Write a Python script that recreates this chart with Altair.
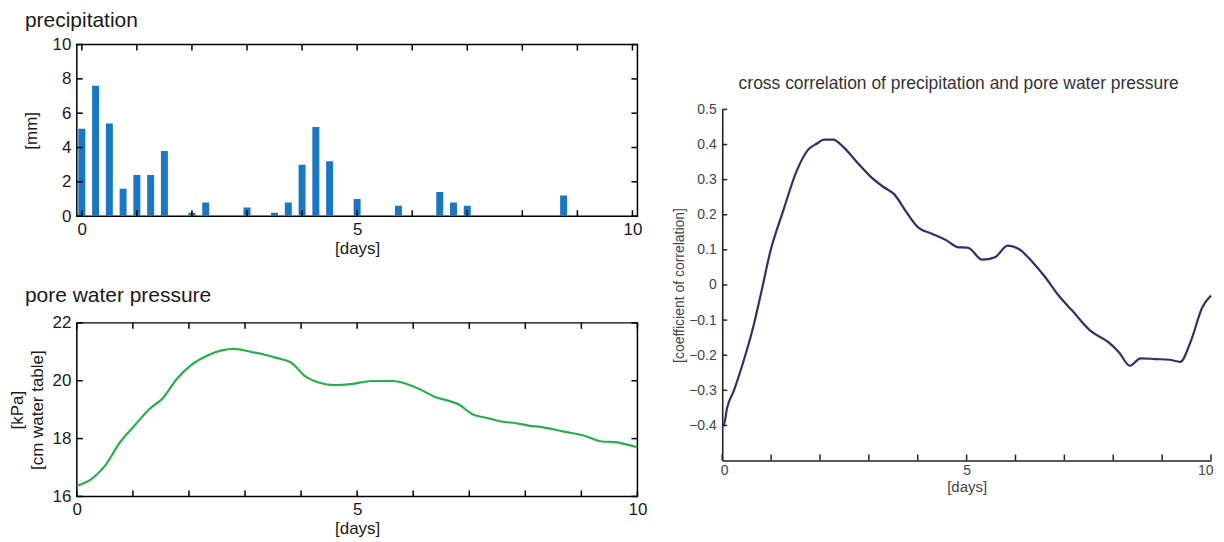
import altair as alt
import pandas as pd

# ---------------- data ----------------
precip_day = [0, 0.25, 0.5, 0.75, 1.0, 1.25, 1.5, 2.0, 2.25, 3.0, 3.5, 3.75,
              4.0, 4.25, 4.5, 5.0, 5.75, 6.5, 6.75, 7.0, 8.75]
precip_mm = [5.1, 7.6, 5.4, 1.6, 2.4, 2.4, 3.8, 0.2, 0.8, 0.5, 0.2, 0.8,
             3.0, 5.2, 3.2, 1.0, 0.6, 1.4, 0.8, 0.6, 1.2]

pwp_day = [0, 0.26, 0.49, 0.78, 1.01, 1.31, 1.53, 1.79, 2.04, 2.35, 2.80, 3.10,
           3.54, 3.84, 4.07, 4.33, 4.59, 4.89, 5.26, 5.63, 5.90, 6.08, 6.38,
           6.83, 7.05, 7.35, 7.57, 7.84, 8.06, 8.32, 8.69, 9.07, 9.37, 9.59, 10.0]
pwp_kpa = [16.37, 16.60, 17.03, 17.90, 18.41, 19.05, 19.39, 20.08, 20.54, 20.89,
           21.10, 21.00, 20.80, 20.60, 20.16, 19.93, 19.85, 19.88, 19.99, 19.99,
           19.88, 19.74, 19.45, 19.16, 18.85, 18.70, 18.59, 18.53, 18.45, 18.39,
           18.24, 18.09, 17.90, 17.88, 17.70]

xc_day = [0, 0.03, 0.1, 0.24, 0.46, 0.65, 0.8, 0.98, 1.24, 1.53, 1.75, 1.94, 2.08,
          2.27, 2.49, 2.78, 3.04, 3.30, 3.52, 3.78, 4.0, 4.29, 4.59, 4.81, 5.03,
          5.32, 5.58, 5.84, 6.06, 6.35, 6.61, 6.87, 7.16, 7.53, 7.9, 8.12, 8.34,
          8.56, 8.86, 9.15, 9.37, 9.59, 9.82, 10.0]
xc_coef = [-0.40, -0.40, -0.35, -0.30, -0.206, -0.111, -0.02, 0.093, 0.208, 0.327,
           0.384, 0.403, 0.414, 0.414, 0.391, 0.346, 0.308, 0.279, 0.258, 0.205,
           0.165, 0.146, 0.127, 0.108, 0.106, 0.072, 0.079, 0.112, 0.103, 0.065,
           0.022, -0.028, -0.073, -0.13, -0.163, -0.192, -0.23, -0.209, -0.211,
           -0.213, -0.219, -0.159, -0.064, -0.03]

day_ticks = [0, 1, 2, 3, 4, 5, 6, 7, 8, 9, 10]
day_labels = [0, 5, 10]
precip_ticks = [0, 2, 4, 6, 8, 10]
pwp_ticks = [16, 18, 20, 22]
xc_ticks = [-0.4, -0.3, -0.2, -0.1, 0, 0.1, 0.2, 0.3, 0.4, 0.5]

FONT = "Liberation Sans"
TXT = "#1a1a1a"
GRAY = "#444444"

LW, TH, BH = 562, 172, 174
RW, RH = 490, 352
TL = 6

xscale = alt.Scale(domain=[0, 10], nice=False, zero=False)


def left_x_axis():
    return alt.Axis(values=day_labels, ticks=False, domain=False, grid=False,
                    labelFontSize=17, labelFont=FONT, labelColor=TXT, labelPadding=5,
                    labelFlush=False, labelOverlap=False,
                    title="[days]", titleFont=FONT, titleFontSize=17,
                    titleFontWeight="normal", titleColor=TXT, titlePadding=3)


def inward_ticks(yfield_vals, yscale, W, H):
    xt = alt.Chart(pd.DataFrame({"t": day_ticks}))
    yt = alt.Chart(pd.DataFrame({"v": yfield_vals}))
    rule = dict(color="black", strokeWidth=1.5)
    bottom = xt.mark_rule(**rule).encode(
        x=alt.X("t:Q", scale=xscale, axis=None), y=alt.value(H), y2=alt.value(H - TL))
    top = xt.mark_rule(**rule).encode(
        x=alt.X("t:Q", scale=xscale, axis=None), y=alt.value(0), y2=alt.value(TL))
    left = yt.mark_rule(**rule).encode(
        y=alt.Y("v:Q", scale=yscale, axis=None), x=alt.value(0), x2=alt.value(TL))
    right = yt.mark_rule(**rule).encode(
        y=alt.Y("v:Q", scale=yscale, axis=None), x=alt.value(W), x2=alt.value(W - TL))
    return [bottom, top, left, right]


# ---------------- precipitation ----------------
p_yscale = alt.Scale(domain=[0, 10], nice=False)
precip_df = pd.DataFrame({"day": precip_day, "mm": precip_mm})
bars = alt.Chart(precip_df).mark_bar(size=7, color="#1a78c2", clip=True).encode(
    x=alt.X("day:Q", scale=xscale, axis=left_x_axis()),
    y=alt.Y("mm:Q", scale=p_yscale,
            axis=alt.Axis(values=precip_ticks, ticks=False, domain=False, grid=False,
                          labelFontSize=17, labelFont=FONT, labelColor=TXT,
                          labelPadding=6, labelFlush=False,
                          title="[mm]", titleFont=FONT, titleFontSize=17,
                          titleFontWeight="normal", titleColor=TXT,
                          titleAngle=-90, titleAlign="center", titleBaseline="middle",
                          titleX=-45, titleY=TH / 2)),
)
top_chart = alt.layer(bars, *inward_ticks(precip_ticks, p_yscale, LW, TH)).resolve_axis(
    x="independent", y="independent"
).properties(
    width=LW, height=TH,
    view=alt.ViewBackground(stroke="black", strokeWidth=1.5),
    title=alt.TitleParams("precipitation", anchor="start", frame="group", dx=-52, offset=5,
                          font=FONT, fontSize=21, fontWeight="normal", color=TXT),
)

# ---------------- pore water pressure ----------------
w_yscale = alt.Scale(domain=[16, 22], nice=False, zero=False)
pwp_df = pd.DataFrame({"day": pwp_day, "kpa": pwp_kpa})
pline = alt.Chart(pwp_df).mark_line(color="#27b04a", strokeWidth=2.2,
                                    interpolate="monotone").encode(
    x=alt.X("day:Q", scale=xscale, axis=left_x_axis()),
    y=alt.Y("kpa:Q", scale=w_yscale,
            axis=alt.Axis(values=pwp_ticks, ticks=False, domain=False, grid=False,
                          labelFontSize=17, labelFont=FONT, labelColor=TXT,
                          labelPadding=6, labelFlush=False,
                          title=["[kPa]", "[cm water table]"], titleFont=FONT,
                          titleFontSize=17, titleLineHeight=20,
                          titleFontWeight="normal", titleColor=TXT,
                          titleAngle=-90, titleAlign="center", titleBaseline="middle",
                          titleX=-59, titleY=BH / 2)),
)
bottom_chart = alt.layer(pline, *inward_ticks(pwp_ticks, w_yscale, LW, BH)).resolve_axis(
    x="independent", y="independent"
).properties(
    width=LW, height=BH,
    view=alt.ViewBackground(stroke="black", strokeWidth=1.5),
    title=alt.TitleParams("pore water pressure", anchor="start", frame="group", dx=-52,
                          offset=8, font=FONT, fontSize=21, fontWeight="normal", color=TXT),
)

# ---------------- cross correlation ----------------
c_yscale = alt.Scale(domain=[-0.5, 0.5], nice=False, zero=False)
xc_df = pd.DataFrame({"day": xc_day, "coef": xc_coef})
cline = alt.Chart(xc_df).mark_line(color="#2f2f6e", strokeWidth=2.2,
                                   interpolate="monotone").encode(
    x=alt.X("day:Q", scale=xscale,
            axis=alt.Axis(values=day_labels, ticks=False, domain=True, domainColor="#222222",
                          domainWidth=1.6, grid=False,
                          labelFontSize=14, labelFont=FONT, labelColor=GRAY, labelPadding=3,
                          labelFlush=True, labelFlushOffset=2, labelOverlap=False,
                          title="[days]", titleFont=FONT, titleFontSize=15,
                          titleFontWeight="normal", titleColor=GRAY, titlePadding=2)),
    y=alt.Y("coef:Q", scale=c_yscale,
            axis=alt.Axis(values=xc_ticks, ticks=False, domain=True, domainColor="#222222",
                          domainWidth=1.6, grid=False, format=".1~f",
                          labelFontSize=14, labelFont=FONT, labelColor=GRAY,
                          labelPadding=6, labelFlush=False,
                          title="[coefficient of correlation]", titleFont=FONT,
                          titleFontSize=14, titleFontWeight="normal", titleColor=GRAY,
                          titleAngle=-90, titleAlign="center", titleBaseline="middle",
                          titleX=-43, titleY=RH / 2)),
)
rt_x = alt.Chart(pd.DataFrame({"t": day_ticks})).mark_rule(color="#222222", strokeWidth=1.5).encode(
    x=alt.X("t:Q", scale=xscale, axis=None), y=alt.value(RH), y2=alt.value(RH - TL))
rt_y = alt.Chart(pd.DataFrame({"v": xc_ticks})).mark_rule(color="#222222", strokeWidth=1.5).encode(
    y=alt.Y("v:Q", scale=c_yscale, axis=None), x=alt.value(0), x2=alt.value(5))
right_chart = alt.layer(cline, rt_x, rt_y).resolve_axis(
    x="independent", y="independent"
).properties(
    width=RW, height=RH,
    title=alt.TitleParams("cross correlation of precipitation and pore water pressure",
                          anchor="middle", frame="group", dx=-8, offset=10,
                          font=FONT, fontSize=17.5, fontWeight="normal", color="#333333"),
)

spacer = alt.Chart(pd.DataFrame({"a": [0]})).mark_point(opacity=0, size=1).encode(
    x=alt.value(0), y=alt.value(0)).properties(width=RW, height=65)

left_col = alt.vconcat(top_chart, bottom_chart, spacing=107, bounds="flush")
right_col = alt.vconcat(spacer, right_chart, spacing=0, bounds="flush")

chart = alt.hconcat(left_col, right_col, spacing=24).properties(
    padding=0, background="white"
).configure_view(stroke=None)

chart.save("out.html", embed_options={"renderer": "svg", "actions": False})
